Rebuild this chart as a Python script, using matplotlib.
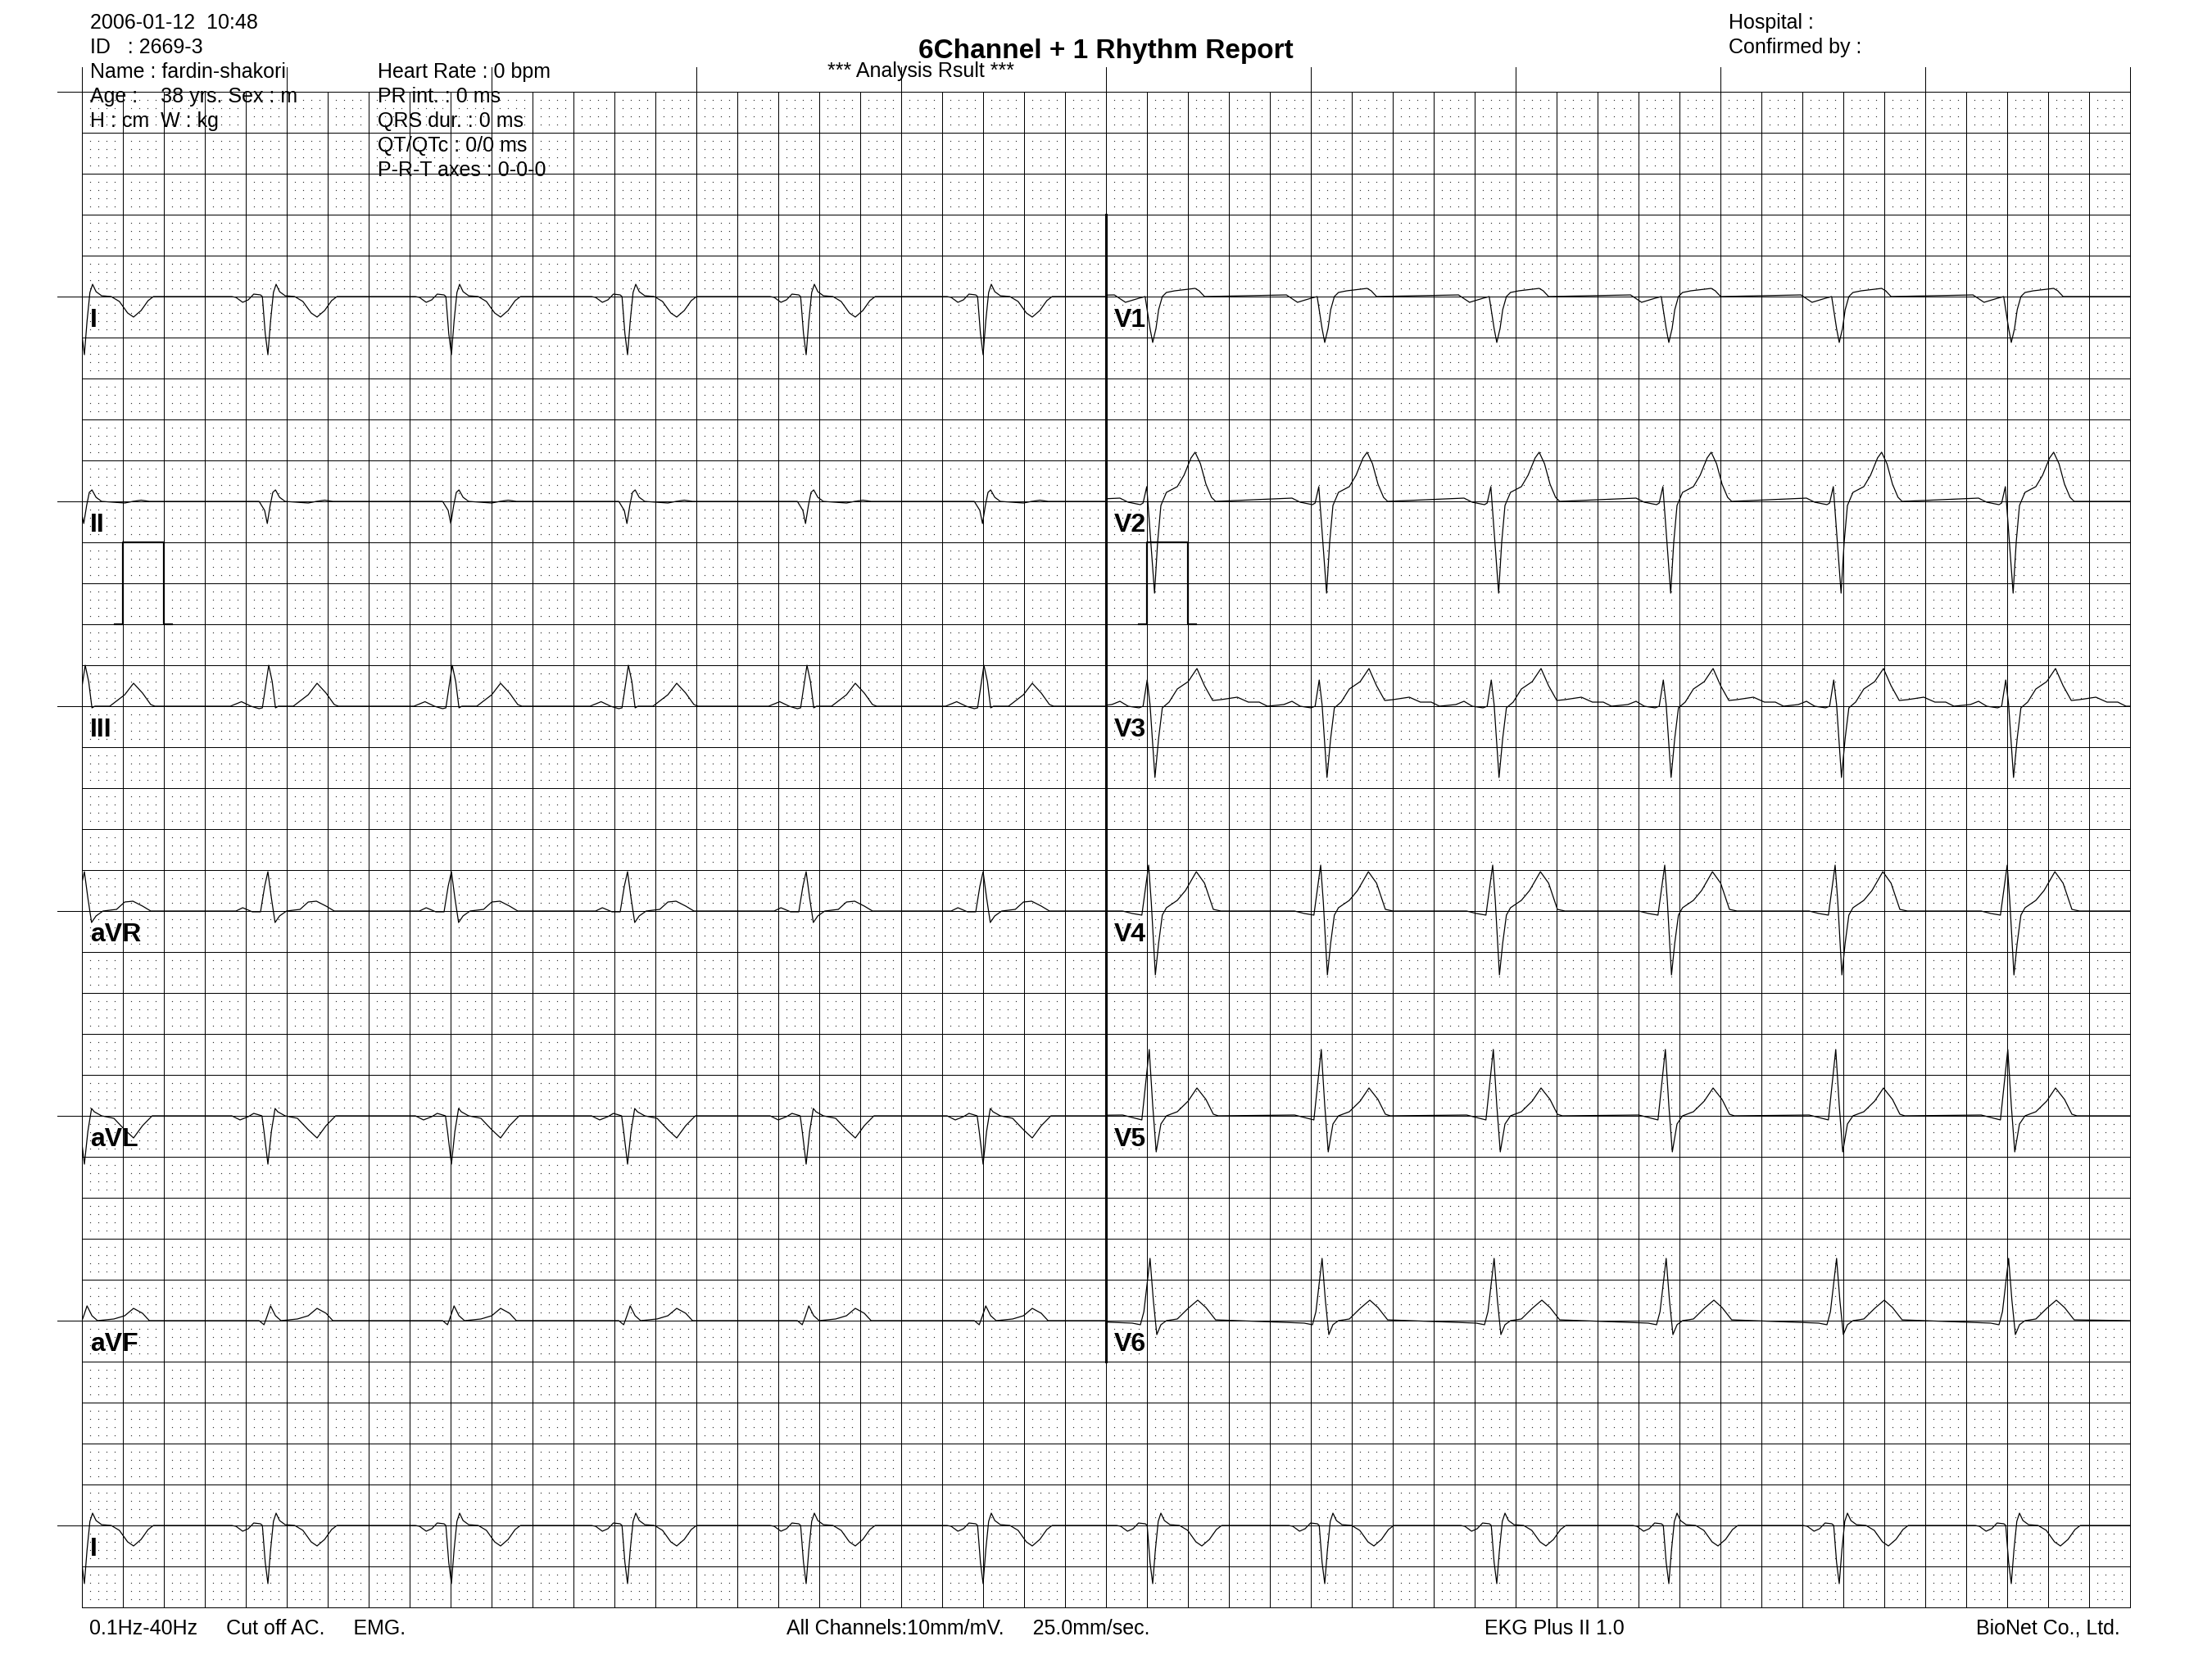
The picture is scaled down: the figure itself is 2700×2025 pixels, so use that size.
"""6 channel + 1 rhythm ECG report sheet."""
import matplotlib
matplotlib.use("Agg")
import matplotlib.pyplot as plt
import numpy as np

plt.rcParams["font.family"] = ["Liberation Sans", "DejaVu Sans"]

# QRS times of the recording, seconds from the start of the 10 s record
BEAT_S = [0.012, 0.908, 1.804, 2.664, 3.536, 4.400,
          5.228, 6.068, 6.908, 7.748, 8.580, 9.420]

# one beat per lead: (ms from QRS reference, mV)
LEAD_I = [(-176, 0), (-156, -0.01), (-123, -0.07), (-96, -0.04), (-69, 0.03), (-36, 0.02),
          (-27, 0), (-13, -0.45), (0, -0.71), (13, -0.30), (27, 0.05), (40, 0.15),
          (57, 0.06), (84, 0.01), (131, 0), (171, -0.06), (211, -0.20), (240, -0.25),
          (277, -0.17), (311, -0.05), (337, 0)]
LEAD_II = [(-43, 0), (-16, -0.11), (-3, -0.27), (11, -0.05), (24, 0.11), (37, 0.14),
           (57, 0.05), (84, 0), (197, -0.02), (237, 0), (277, 0.015), (317, 0)]
LEAD_III = [(-183, 0), (-129, 0.055), (-83, 0), (-43, -0.03), (-27, -0.02), (4, 0.50),
            (21, 0.30), (37, -0.02), (51, 0), (124, 0), (197, 0.14), (240, 0.28),
            (284, 0.16), (324, 0.02), (344, 0)]
LEAD_AVR = [(-156, 0), (-123, 0.04), (-76, -0.01), (-36, -0.01), (-16, 0.30), (0, 0.48),
            (17, 0.16), (35, -0.14), (57, -0.06), (91, 0), (157, 0.02), (197, 0.11),
            (237, 0.12), (284, 0.06), (324, 0)]
LEAD_AVL = [(-176, 0), (-136, -0.05), (-96, -0.01), (-69, 0.03), (-29, 0), (-19, -0.19),
            (0, -0.59), (17, -0.19), (35, 0.09), (48, 0.05), (84, 0), (144, -0.03),
            (197, -0.17), (240, -0.27), (284, -0.12), (331, 0)]
LEAD_AVF = [(-43, 0), (-19, -0.05), (-3, 0.06), (13, 0.18), (37, 0.06), (64, 0),
            (144, 0.02), (197, 0.06), (240, 0.15), (284, 0.09), (317, 0)]
LEAD_V1 = [(-187, 0.02), (-133, -0.07), (-67, -0.02), (-37, 0), (-27, -0.16), (-13, -0.39),
           (0, -0.56), (16, -0.39), (29, -0.16), (47, 0), (67, 0.05), (107, 0.07),
           (207, 0.10), (227, 0.07), (253, 0)]
LEAD_V2 = [(-160, 0.04), (-120, -0.01), (-60, -0.04), (-47, -0.02), (-29, 0.18), (-13, -0.37),
           (9, -1.12), (24, -0.50), (40, -0.05), (67, 0.11), (120, 0.18), (153, 0.32),
           (187, 0.53), (207, 0.60), (233, 0.46), (260, 0.21), (287, 0.05), (307, 0)]
LEAD_V3 = [(-200, 0.02), (-160, 0.06), (-120, 0), (-67, -0.02), (-47, 0), (-27, 0.32),
           (-13, 0.02), (11, -0.87), (29, -0.39), (47, -0.02), (80, 0.05), (120, 0.21),
           (173, 0.30), (216, 0.46), (253, 0.25), (293, 0.07), (333, 0.08), (413, 0.11),
           (467, 0.05), (520, 0.05), (560, 0)]
LEAD_V4 = [(-147, 0), (-100, -0.03), (-53, -0.05), (-20, 0.56), (-7, 0.11), (13, -0.78),
           (29, -0.39), (47, -0.05), (67, 0.04), (120, 0.13), (160, 0.25), (213, 0.48),
           (253, 0.34), (296, 0.02), (333, 0)]
LEAD_V5 = [(-147, 0.01), (-100, -0.02), (-53, -0.05), (-17, 0.81), (0, 0.13), (17, -0.44),
           (40, -0.10), (67, 0), (120, 0.05), (173, 0.18), (216, 0.34), (260, 0.20),
           (296, 0.02), (320, 0)]
LEAD_V6 = [(-100, -0.03), (-60, -0.05), (-43, 0.11), (-13, 0.76), (3, 0.25), (20, -0.17),
           (40, -0.05), (67, 0), (120, 0.02), (173, 0.15), (220, 0.25), (260, 0.16), (307, 0.01)]

LEFT_LEADS = ["I", "II", "III", "aVR", "aVL", "aVF"]
RIGHT_LEADS = ["V1", "V2", "V3", "V4", "V5", "V6"]
TEMPLATES = {"I": LEAD_I, "II": LEAD_II, "III": LEAD_III, "aVR": LEAD_AVR,
             "aVL": LEAD_AVL, "aVF": LEAD_AVF, "V1": LEAD_V1, "V2": LEAD_V2,
             "V3": LEAD_V3, "V4": LEAD_V4, "V5": LEAD_V5, "V6": LEAD_V6}
CAL_LEADS = ["II", "V2"]

# calibration pulse: seconds after the strip start and mV
CAL_T = [0.16, 0.20, 0.20, 0.40, 0.40, 0.44]
CAL_MV = [-1.5, -1.5, -0.5, -0.5, -1.5, -1.5]

HEADER_LEFT = ["2006-01-12  10:48", "ID   : 2669-3", "Name : fardin-shakori",
               "Age :    38 yrs. Sex : m", "H : cm  W : kg"]
HEADER_MID = ["Heart Rate : 0 bpm", "PR int. : 0 ms", "QRS dur. : 0 ms",
              "QT/QTc : 0/0 ms", "P-R-T axes : 0-0-0"]

W, H = 2700, 2025
GX0, GX1, GY0, GY1 = 100, 2600, 112, 1962
BASE0, ROW = 362, 250
PX_S = 250   # 25 mm/s at 10 px/mm


def beat_trace(lead, lo, hi):
    ms, mv = zip(*TEMPLATES[lead])
    xs, ys = [lo], [0.0]
    for b in BEAT_S:
        xs += [b + t / 1000.0 for t in ms]
        ys += list(mv)
    xs.append(hi)
    ys.append(0.0)
    return xs, ys


def panel(fig, x0, base, secs, t0):
    ax = fig.add_axes([x0 / W, (H - (base + 150)) / H, secs * PX_S / W, 250 / H])
    ax.set_xlim(t0, t0 + secs)
    ax.set_ylim(-1.5, 1.0)
    ax.axis("off")
    ax.patch.set_alpha(0)
    return ax


fig = plt.figure(figsize=(27, 20.25), dpi=100)
page = fig.add_axes([0, 0, 1, 1])
page.set_xlim(0, W)
page.set_ylim(H, 0)
page.axis("off")

# dotted 1 mm grid
mx = np.arange(GX0, GX1 + 1, 10)
my = np.arange(GY0, GY1 + 1, 10)
mx = mx[(mx - GX0) % 50 != 0]
my = my[(my - GY0) % 50 != 0]
dx, dy = np.meshgrid(mx, my)
page.plot(dx.ravel(), dy.ravel(), "s", ms=0.85, mec="none", color="#333333", zorder=1)

# 5 mm grid, one pixel wide
gkw = dict(color="k", lw=0.72, antialiased=False, zorder=2)
for x in range(GX0, GX1 + 1, 50):
    page.plot([x, x], [GY0, GY1], **gkw)
for y in range(GY0, GY1 + 1, 50):
    page.plot([GX0, GX1], [y, y], **gkw)
# 1 s ticks above the grid, extended top line and baselines
for x in range(GX0, GX1 + 1, 250):
    page.plot([x, x], [82, GY0], **gkw)
for y in [GY0] + [BASE0 + ROW * i for i in range(7)]:
    page.plot([70, GX0], [y, y], **gkw)
# column separator
page.plot([1350, 1350], [262, 1662], color="k", lw=2.2, zorder=3)

# 6 + 6 leads
for leads, x0, t0, lx in [(LEFT_LEADS, GX0, 0, 110), (RIGHT_LEADS, 1350, 5, 1360)]:
    for i, lead in enumerate(leads):
        base = BASE0 + ROW * i
        ax = panel(fig, x0, base, 5, t0)
        ax.plot(*beat_trace(lead, t0, t0 + 5), color="k", lw=0.9)
        if lead in CAL_LEADS:
            ax.plot([t0 + t for t in CAL_T], CAL_MV, color="k", lw=1.6, clip_on=False)
        page.text(lx, base + 29, lead, fontsize=23, fontweight="bold", va="center", zorder=5)

# rhythm strip
rbase = BASE0 + ROW * 6
ax = panel(fig, GX0, rbase, 10, 0)
ax.plot(*beat_trace("I", 0, 10), color="k", lw=0.9)
page.text(110, rbase + 29, "I", fontsize=23, fontweight="bold", va="center", zorder=5)

# header
for k, s in enumerate(HEADER_LEFT):
    page.text(110, 28 + 30 * k, s, fontsize=18, va="center", zorder=5)
for k, s in enumerate(HEADER_MID):
    page.text(461, 88 + 30 * k, s, fontsize=18, va="center", zorder=5)
page.text(1350, 62, "6Channel + 1 Rhythm Report", fontsize=24, fontweight="bold",
          ha="center", va="center", zorder=5)
page.text(1010, 87, "*** Analysis Rsult ***", fontsize=18, va="center", zorder=5)
page.text(2110, 28, "Hospital :", fontsize=18, va="center", zorder=5)
page.text(2110, 58, "Confirmed by :", fontsize=18, va="center", zorder=5)

# footer
page.text(109, 1988, "0.1Hz-40Hz     Cut off AC.     EMG.", fontsize=18, va="center")
page.text(960, 1988, "All Channels:10mm/mV.     25.0mm/sec.", fontsize=18, va="center")
page.text(1812, 1988, "EKG Plus II 1.0", fontsize=18, va="center")
page.text(2588, 1988, "BioNet Co., Ltd.", fontsize=18, ha="right", va="center")

fig.savefig("out.png", dpi=100)
